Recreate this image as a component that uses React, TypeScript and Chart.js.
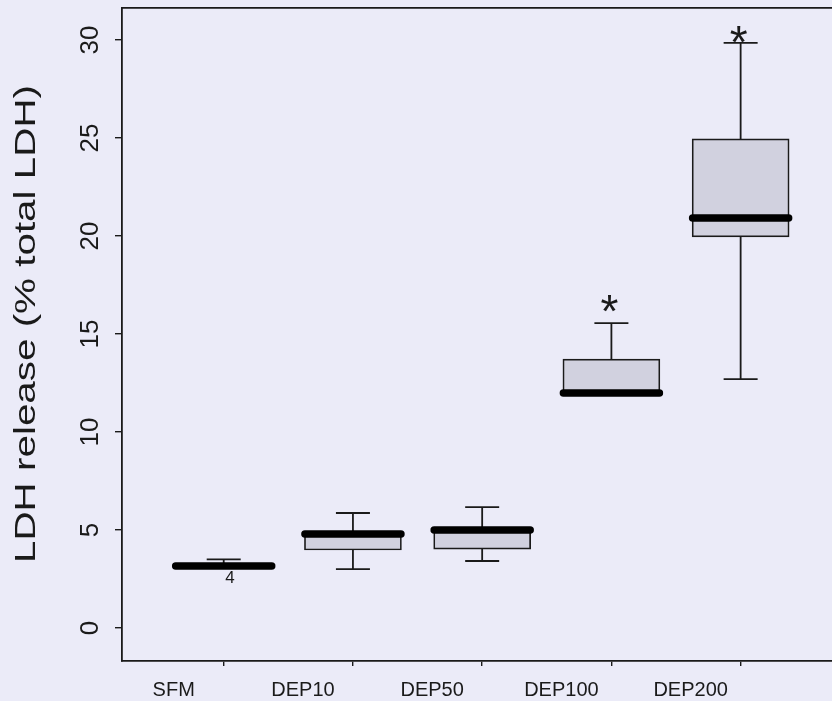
import React, { useEffect, useRef } from 'react';
import { Chart, registerables } from 'chart.js';

Chart.register(...registerables);

// ---- data ----
const categories = ['SFM', 'DEP10', 'DEP50', 'DEP100', 'DEP200'];
const whiskerLow = [3.1, 3.01, 3.42, 11.99, 12.7];
const q1 = [3.1, 3.98, 4.03, 11.99, 19.95];
const medians = [3.16, 4.8, 5.0, 11.99, 20.92];
const q3 = [3.2, 4.88, 5.06, 13.72, 24.95];
const whiskerHigh = [3.5, 5.87, 6.17, 15.56, 29.85];
const yTicks = [0, 5, 10, 15, 20, 25, 30];
const yRange = [-1.68, 31.63];
const xRange = [0.213, 5.707];
const starX = [4, 5];
const starY = [16.58, 30.3];
const caseLabelX = [1];
const caseLabelY = [2.6];
const caseLabelText = ['4'];
const yTitle = 'LDH release (% total LDH)';

const FONT = "Arial, 'Liberation Sans', Helvetica, sans-serif";
const BG = '#ebebf8';
const BOX_FILL = '#d1d1df';
const INK = '#1a1a1a';

function drawCentered(ctx: CanvasRenderingContext2D, text: string, cx: number, cy: number, font: string) {
  ctx.font = font;
  ctx.textAlign = 'left';
  ctx.textBaseline = 'alphabetic';
  const m = ctx.measureText(text);
  const asc = m.actualBoundingBoxAscent;
  const desc = m.actualBoundingBoxDescent;
  const l = m.actualBoundingBoxLeft;
  const r = m.actualBoundingBoxRight;
  ctx.fillText(text, cx - (r - l) / 2, cy + (asc - desc) / 2);
}

const bgPlugin = {
  id: 'bgFill',
  beforeDraw(chart: any) {
    const ctx = chart.ctx;
    ctx.save();
    ctx.fillStyle = BG;
    ctx.fillRect(0, 0, chart.width, chart.height);
    ctx.restore();
  },
};

const capsPlugin = {
  id: 'roundCaps',
  beforeDatasetDraw(chart: any, args: any) {
    if (args.index === 3) chart.ctx.lineCap = 'round';
  },
  afterDatasetDraw(chart: any) {
    chart.ctx.lineCap = 'butt';
  },
};

const textPlugin = {
  id: 'annotText',
  afterDatasetsDraw(chart: any) {
    const ctx = chart.ctx;
    const xs = chart.scales.x;
    const ys = chart.scales.y;
    ctx.save();
    ctx.fillStyle = INK;
    starX.forEach((v, i) => {
      drawCentered(ctx, '*', xs.getPixelForValue(v) - 2, ys.getPixelForValue(starY[i]), `46px ${FONT}`);
    });
    caseLabelX.forEach((v, i) => {
      drawCentered(ctx, caseLabelText[i], xs.getPixelForValue(v) + 6, ys.getPixelForValue(caseLabelY[i]), `17px ${FONT}`);
    });
    // rotated y-axis title
    ctx.translate(35, 324);
    ctx.rotate(-Math.PI / 2);
    ctx.font = `30px ${FONT}`;
    const w = ctx.measureText(yTitle).width;
    ctx.scale(478 / w, 1);
    ctx.textAlign = 'center';
    ctx.textBaseline = 'alphabetic';
    ctx.fillText(yTitle, 0, 0);
    ctx.restore();
  },
};

export default function App() {
  const ref = useRef<HTMLCanvasElement | null>(null);

  useEffect(() => {
    document.body.style.margin = '0';
    document.body.style.background = BG;
    const canvas = ref.current;
    if (!canvas) return;

    const boxData = categories.map((_, i) => ({ x: i + 1, y: [q1[i], q3[i]] }));
    const stemData: any[] = [];
    categories.forEach((_, i) => {
      stemData.push(
        { x: i + 1, y: q3[i] },
        { x: i + 1, y: whiskerHigh[i] },
        { x: i + 1, y: null },
        { x: i + 1, y: q1[i] },
        { x: i + 1, y: whiskerLow[i] },
        { x: i + 1, y: null },
      );
    });
    const capData = categories.flatMap((_, i) => [
      { x: i + 1, y: whiskerHigh[i] },
      { x: i + 1, y: whiskerLow[i] },
    ]);
    const medianData = categories.map((_, i) => ({ x: i + 1, y: medians[i] }));

    const chart = new Chart(canvas, {
      type: 'bar',
      data: {
        datasets: [
          {
            type: 'bar',
            data: boxData as any,
            backgroundColor: BOX_FILL,
            borderColor: INK,
            borderWidth: 1.7,
            borderSkipped: false,
            barThickness: 97,
            order: 3,
          } as any,
          {
            type: 'line',
            data: stemData,
            borderColor: INK,
            borderWidth: 1.8,
            pointRadius: 0,
            spanGaps: false,
            fill: false,
            order: 4,
          } as any,
          {
            type: 'line',
            data: capData,
            showLine: false,
            pointStyle: 'line',
            pointRadius: 17,
            pointBorderWidth: 1.8,
            pointBorderColor: INK,
            borderColor: INK,
            order: 2,
          } as any,
          {
            type: 'line',
            data: medianData,
            showLine: false,
            pointStyle: 'line',
            pointRadius: 48,
            pointBorderWidth: 7.5,
            pointBorderColor: '#000',
            borderColor: '#000',
            order: 1,
          } as any,
        ],
      },
      options: {
        animation: false,
        responsive: false,
        devicePixelRatio: 1,
        layout: { autoPadding: false, padding: { top: 8, left: 0, right: 0, bottom: 0 } },
        plugins: {
          legend: { display: false },
          tooltip: { enabled: false },
          title: { display: false },
        },
        scales: {
          x: {
            type: 'linear',
            position: 'bottom',
            min: xRange[0],
            max: xRange[1],
            offset: false,
            afterBuildTicks: (s: any) => {
              s.ticks = categories.map((_, i) => ({ value: i + 1 }));
            },
            afterFit: (s: any) => {
              s.height = 40;
              s.paddingLeft = 0;
              s.paddingRight = 0;
            },
            ticks: {
              callback: (v: any) => categories[Math.round(Number(v)) - 1] ?? '',
              autoSkip: false,
              maxRotation: 0,
              minRotation: 0,
              labelOffset: -50,
              padding: 12,
              color: INK,
              font: { family: FONT, size: 20 },
            },
            grid: {
              display: true,
              drawOnChartArea: false,
              drawTicks: true,
              tickLength: 5,
              color: INK,
              lineWidth: 1.4,
              offset: false,
            },
            border: { display: true, color: INK, width: 1.8 },
          },
          xTop: {
            type: 'linear',
            position: 'top',
            min: xRange[0],
            max: xRange[1],
            offset: false,
            ticks: { display: false },
            grid: { display: false, drawTicks: false },
            border: { display: true, color: INK, width: 1.8 },
            afterFit: (s: any) => {
              s.height = 0;
              s.paddingLeft = 0;
              s.paddingRight = 0;
            },
          },
          y: {
            type: 'linear',
            min: yRange[0],
            max: yRange[1],
            afterBuildTicks: (s: any) => {
              s.ticks = yTicks.map((v) => ({ value: v }));
            },
            afterFit: (s: any) => {
              s.width = 122;
              s.paddingTop = 0;
              s.paddingBottom = 0;
            },
            ticks: {
              minRotation: 90,
              maxRotation: 90,
              crossAlign: 'center',
              padding: 10,
              color: INK,
              font: { family: FONT, size: 26 },
              callback: (v: any) => String(v),
            },
            grid: {
              drawOnChartArea: false,
              drawTicks: true,
              tickLength: 7,
              color: INK,
              lineWidth: 1.4,
            },
            border: { display: true, color: INK, width: 1.8 },
          },
        } as any,
      },
      plugins: [bgPlugin, capsPlugin, textPlugin],
    });

    return () => chart.destroy();
  }, []);

  return (
    <div style={{ width: 832, height: 701, position: 'relative', overflow: 'hidden' }}>
      <canvas ref={ref} width={832} height={701} style={{ display: 'block' }} />
    </div>
  );
}
